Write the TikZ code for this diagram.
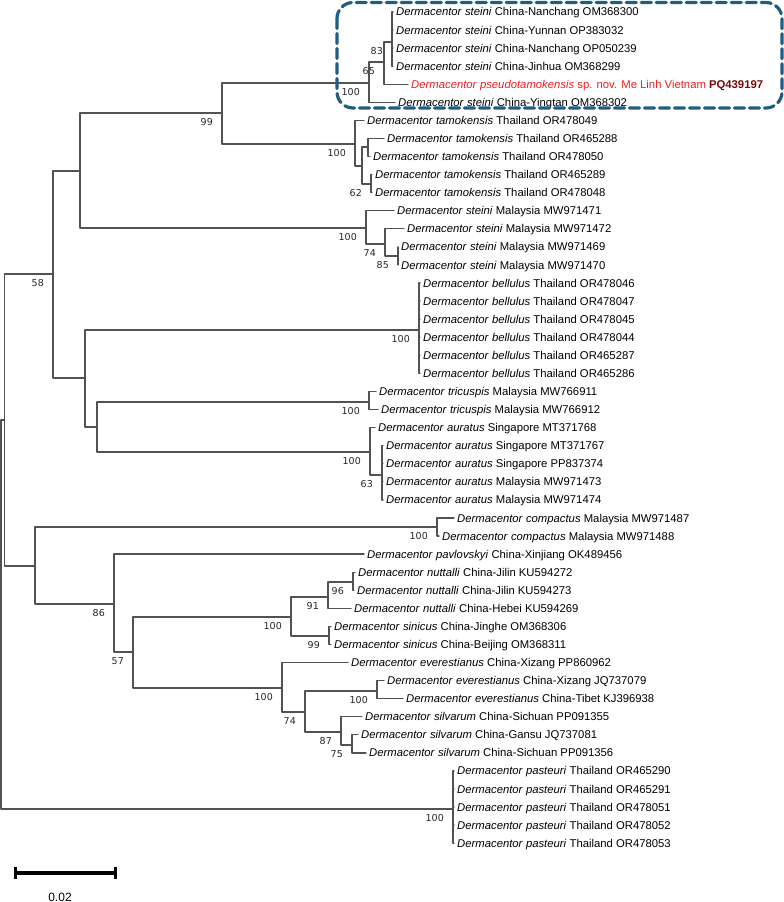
\documentclass[tikz,border=0pt]{standalone}
\usepackage{fontspec}
\setmainfont{Liberation Sans}
\newfontfamily\bsfont{DejaVu Sans}
\definecolor{boxblue}{RGB}{31,94,128}
\definecolor{novred}{RGB}{235,30,35}
\definecolor{accred}{RGB}{120,10,10}
\begin{document}
\begin{tikzpicture}[x=1pt, y=-1pt, line join=round, line cap=round,
	br/.style={draw=black!68, line width=1.25pt},
	lf/.style={anchor=base west, inner sep=0pt, xshift=3pt, yshift=-4pt, font=\fontsize{11.3}{13}\selectfont},
	bs/.style={anchor=north east, inner sep=0pt, xshift=-9pt, yshift=-5.5pt, text=black!85, font=\bsfont\fontsize{9.5}{10}\selectfont}]
	\useasboundingbox (0,0) rectangle (784,902);
	\def\D{\textit{Dermacentor}}
	% inner nodes
	\coordinate (root) at (1,614);
	\coordinate (ingroup) at (4.5,420);
	\coordinate (n58) at (53,274);
	\coordinate (nsteini) at (80,171);
	\coordinate (n99) at (222,113);
	\coordinate (nchina) at (369,83);
	\coordinate (n65) at (384,62);
	\coordinate (n83) at (392,42);
	\coordinate (ntamo) at (355,144);
	\coordinate (ntamoA) at (362,166);
	\coordinate (ntamoB) at (368,147);
	\coordinate (n62) at (371,184);
	\coordinate (nmal) at (366,228);
	\coordinate (n74) at (385,244);
	\coordinate (n85) at (398,256);
	\coordinate (nlow) at (85,378);
	\coordinate (nbell) at (419,330);
	\coordinate (ntriaur) at (97,427);
	\coordinate (ntric) at (369,402);
	\coordinate (naur) at (370,452);
	\coordinate (n63) at (382,475);
	\coordinate (nlower) at (35,566);
	\coordinate (ncomp) at (437,527);
	\coordinate (n86) at (114,604);
	\coordinate (n57) at (133,652);
	\coordinate (nnut) at (291,617);
	\coordinate (n91) at (328,597);
	\coordinate (n96) at (353,582);
	\coordinate (nsin) at (329,636);
	\coordinate (never) at (282,688);
	\coordinate (n74b) at (305,712);
	\coordinate (neve) at (377,691);
	\coordinate (n87) at (341,732);
	\coordinate (n75) at (352,745);
	\coordinate (npast) at (453,809);
	% leaf tips
	\coordinate (t1) at (393,12.0);
	\coordinate (t2) at (393,30.1);
	\coordinate (t3) at (393,48.1);
	\coordinate (t4) at (393,66.2);
	\coordinate (t5) at (408,84.3);
	\coordinate (t6) at (395,102.4);
	\coordinate (t7) at (364,120.4);
	\coordinate (t8) at (384,138.5);
	\coordinate (t9) at (370,156.6);
	\coordinate (t10) at (372,174.6);
	\coordinate (t11) at (372,192.7);
	\coordinate (t12) at (394,210.8);
	\coordinate (t13) at (404,228.8);
	\coordinate (t14) at (398,246.9);
	\coordinate (t15) at (398,265.0);
	\coordinate (t16) at (420,283.1);
	\coordinate (t17) at (420,301.1);
	\coordinate (t18) at (420,319.2);
	\coordinate (t19) at (420,337.3);
	\coordinate (t20) at (420,355.3);
	\coordinate (t21) at (420,373.4);
	\coordinate (t22) at (376,391.5);
	\coordinate (t23) at (378,409.5);
	\coordinate (t24) at (375,427.6);
	\coordinate (t25) at (383,445.7);
	\coordinate (t26) at (383,463.8);
	\coordinate (t27) at (383,481.8);
	\coordinate (t28) at (383,499.9);
	\coordinate (t29) at (454,518.0);
	\coordinate (t30) at (439,536.0);
	\coordinate (t31) at (364,554.1);
	\coordinate (t32) at (355,572.2);
	\coordinate (t33) at (354,590.2);
	\coordinate (t34) at (351,608.3);
	\coordinate (t35) at (331,626.4);
	\coordinate (t36) at (331,644.4);
	\coordinate (t37) at (348,662.5);
	\coordinate (t38) at (384,680.6);
	\coordinate (t39) at (403,698.6);
	\coordinate (t40) at (362,716.7);
	\coordinate (t41) at (358,734.8);
	\coordinate (t42) at (366,752.9);
	\coordinate (t43) at (454,770.9);
	\coordinate (t44) at (454,789.0);
	\coordinate (t45) at (454,807.1);
	\coordinate (t46) at (454,825.1);
	\coordinate (t47) at (454,843.2);
	% branches
	\draw[br] (root) |- (ingroup); \draw[br] (root) |- (npast);
	\draw[br] (ingroup) |- (n58); \draw[br] (ingroup) |- (nlower);
	\draw[br] (n58) |- (nsteini); \draw[br] (n58) |- (nlow);
	\draw[br] (nsteini) |- (n99); \draw[br] (nsteini) |- (nmal);
	\draw[br] (n99) |- (nchina); \draw[br] (n99) |- (ntamo);
	\draw[br] (nchina) |- (n65); \draw[br] (nchina) |- (t6);
	\draw[br] (n65) |- (n83); \draw[br] (n65) |- (t5);
	\draw[br] (n83) |- (t1); \draw[br] (n83) |- (t2); \draw[br] (n83) |- (t3); \draw[br] (n83) |- (t4);
	\draw[br] (ntamo) |- (t7); \draw[br] (ntamo) |- (ntamoA);
	\draw[br] (ntamoA) |- (ntamoB); \draw[br] (ntamoA) |- (n62);
	\draw[br] (ntamoB) |- (t8); \draw[br] (ntamoB) |- (t9);
	\draw[br] (n62) |- (t10); \draw[br] (n62) |- (t11);
	\draw[br] (nmal) |- (t12); \draw[br] (nmal) |- (n74);
	\draw[br] (n74) |- (t13); \draw[br] (n74) |- (n85);
	\draw[br] (n85) |- (t14); \draw[br] (n85) |- (t15);
	\draw[br] (nlow) |- (nbell); \draw[br] (nlow) |- (ntriaur);
	\draw[br] (nbell) |- (t16); \draw[br] (nbell) |- (t17); \draw[br] (nbell) |- (t18);
	\draw[br] (nbell) |- (t19); \draw[br] (nbell) |- (t20); \draw[br] (nbell) |- (t21);
	\draw[br] (ntriaur) |- (ntric); \draw[br] (ntriaur) |- (naur);
	\draw[br] (ntric) |- (t22); \draw[br] (ntric) |- (t23);
	\draw[br] (naur) |- (t24); \draw[br] (naur) |- (n63);
	\draw[br] (n63) |- (t25); \draw[br] (n63) |- (t26); \draw[br] (n63) |- (t27); \draw[br] (n63) |- (t28);
	\draw[br] (nlower) |- (ncomp); \draw[br] (nlower) |- (n86);
	\draw[br] (ncomp) |- (t29); \draw[br] (ncomp) |- (t30);
	\draw[br] (n86) |- (t31); \draw[br] (n86) |- (n57);
	\draw[br] (n57) |- (nnut); \draw[br] (n57) |- (never);
	\draw[br] (nnut) |- (n91); \draw[br] (nnut) |- (nsin);
	\draw[br] (n91) |- (n96); \draw[br] (n91) |- (t34);
	\draw[br] (n96) |- (t32); \draw[br] (n96) |- (t33);
	\draw[br] (nsin) |- (t35); \draw[br] (nsin) |- (t36);
	\draw[br] (never) |- (t37); \draw[br] (never) |- (n74b);
	\draw[br] (n74b) |- (neve); \draw[br] (n74b) |- (n87);
	\draw[br] (neve) |- (t38); \draw[br] (neve) |- (t39);
	\draw[br] (n87) |- (t40); \draw[br] (n87) |- (n75);
	\draw[br] (n75) |- (t41); \draw[br] (n75) |- (t42);
	\draw[br] (npast) |- (t43); \draw[br] (npast) |- (t44); \draw[br] (npast) |- (t45);
	\draw[br] (npast) |- (t46); \draw[br] (npast) |- (t47);
	% leaf labels
	\node[lf] (l1) at (t1) {\D\ \textit{steini} China-Nanchang OM368300};
	\node[lf] (l2) at (t2) {\D\ \textit{steini} China-Yunnan OP383032};
	\node[lf] (l3) at (t3) {\D\ \textit{steini} China-Nanchang OP050239};
	\node[lf] (l4) at (t4) {\D\ \textit{steini} China-Jinhua OM368299};
	\node[lf, text=novred] (l5) at (t5) {\D\ \textit{pseudotamokensis} sp. nov. Me Linh Vietnam \textcolor{accred}{\textbf{PQ439197}}};
	\node[lf] (l6) at (t6) {\D\ \textit{steini} China-Yingtan OM368302};
	\node[lf] (l7) at (t7) {\D\ \textit{tamokensis} Thailand OR478049};
	\node[lf] (l8) at (t8) {\D\ \textit{tamokensis} Thailand OR465288};
	\node[lf] (l9) at (t9) {\D\ \textit{tamokensis} Thailand OR478050};
	\node[lf] (l10) at (t10) {\D\ \textit{tamokensis} Thailand OR465289};
	\node[lf] (l11) at (t11) {\D\ \textit{tamokensis} Thailand OR478048};
	\node[lf] (l12) at (t12) {\D\ \textit{steini} Malaysia MW971471};
	\node[lf] (l13) at (t13) {\D\ \textit{steini} Malaysia MW971472};
	\node[lf] (l14) at (t14) {\D\ \textit{steini} Malaysia MW971469};
	\node[lf] (l15) at (t15) {\D\ \textit{steini} Malaysia MW971470};
	\node[lf] (l16) at (t16) {\D\ \textit{bellulus} Thailand OR478046};
	\node[lf] (l17) at (t17) {\D\ \textit{bellulus} Thailand OR478047};
	\node[lf] (l18) at (t18) {\D\ \textit{bellulus} Thailand OR478045};
	\node[lf] (l19) at (t19) {\D\ \textit{bellulus} Thailand OR478044};
	\node[lf] (l20) at (t20) {\D\ \textit{bellulus} Thailand OR465287};
	\node[lf] (l21) at (t21) {\D\ \textit{bellulus} Thailand OR465286};
	\node[lf] (l22) at (t22) {\D\ \textit{tricuspis} Malaysia MW766911};
	\node[lf] (l23) at (t23) {\D\ \textit{tricuspis} Malaysia MW766912};
	\node[lf] (l24) at (t24) {\D\ \textit{auratus} Singapore MT371768};
	\node[lf] (l25) at (t25) {\D\ \textit{auratus} Singapore MT371767};
	\node[lf] (l26) at (t26) {\D\ \textit{auratus} Singapore PP837374};
	\node[lf] (l27) at (t27) {\D\ \textit{auratus} Malaysia MW971473};
	\node[lf] (l28) at (t28) {\D\ \textit{auratus} Malaysia MW971474};
	\node[lf] (l29) at (t29) {\D\ \textit{compactus} Malaysia MW971487};
	\node[lf] (l30) at (t30) {\D\ \textit{compactus} Malaysia MW971488};
	\node[lf] (l31) at (t31) {\D\ \textit{pavlovskyi} China-Xinjiang OK489456};
	\node[lf] (l32) at (t32) {\D\ \textit{nuttalli} China-Jilin KU594272};
	\node[lf] (l33) at (t33) {\D\ \textit{nuttalli} China-Jilin KU594273};
	\node[lf] (l34) at (t34) {\D\ \textit{nuttalli} China-Hebei KU594269};
	\node[lf] (l35) at (t35) {\D\ \textit{sinicus} China-Jinghe OM368306};
	\node[lf] (l36) at (t36) {\D\ \textit{sinicus} China-Beijing OM368311};
	\node[lf] (l37) at (t37) {\D\ \textit{everestianus} China-Xizang PP860962};
	\node[lf] (l38) at (t38) {\D\ \textit{everestianus} China-Xizang JQ737079};
	\node[lf] (l39) at (t39) {\D\ \textit{everestianus} China-Tibet KJ396938};
	\node[lf] (l40) at (t40) {\D\ \textit{silvarum} China-Sichuan PP091355};
	\node[lf] (l41) at (t41) {\D\ \textit{silvarum} China-Gansu JQ737081};
	\node[lf] (l42) at (t42) {\D\ \textit{silvarum} China-Sichuan PP091356};
	\node[lf] (l43) at (t43) {\D\ \textit{pasteuri} Thailand OR465290};
	\node[lf] (l44) at (t44) {\D\ \textit{pasteuri} Thailand OR465291};
	\node[lf] (l45) at (t45) {\D\ \textit{pasteuri} Thailand OR478051};
	\node[lf] (l46) at (t46) {\D\ \textit{pasteuri} Thailand OR478052};
	\node[lf] (l47) at (t47) {\D\ \textit{pasteuri} Thailand OR478053};
	% bootstrap values
	\node[bs] (b58) at (n58) {58};
	\node[bs] (b99) at (n99) {99};
	\node[bs] (bchina) at (nchina) {100};
	\node[bs] (b65) at (n65) {65};
	\node[bs] (b83) at (n83) {83};
	\node[bs] (btamo) at (ntamo) {100};
	\node[bs] (b62) at (n62) {62};
	\node[bs] (bmal) at (nmal) {100};
	\node[bs] (b74) at (n74) {74};
	\node[bs] (b85) at (n85) {85};
	\node[bs] (bbell) at (nbell) {100};
	\node[bs] (btric) at (ntric) {100};
	\node[bs] (baur) at (naur) {100};
	\node[bs] (b63) at (n63) {63};
	\node[bs] (bcomp) at (ncomp) {100};
	\node[bs] (b86) at (n86) {86};
	\node[bs] (b57) at (n57) {57};
	\node[bs] (bnut) at (nnut) {100};
	\node[bs] (b91) at (n91) {91};
	\node[bs] (b96) at (n96) {96};
	\node[bs] (bsin) at (nsin) {99};
	\node[bs] (bever) at (never) {100};
	\node[bs] (b74b) at (n74b) {74};
	\node[bs] (beve) at (neve) {100};
	\node[bs] (b87) at (n87) {87};
	\node[bs] (b75) at (n75) {75};
	\node[bs] (bpast) at (npast) {100};
	% new species box
	\draw[boxblue, line width=3.2pt, dash pattern=on 10pt off 5pt, rounded corners=16pt] (337,2.5) rectangle (782,108);
	% scale bar
	\coordinate (sbL) at (15,873);
	\coordinate (sbR) at (115,873);
	\draw[line width=3.6pt, line cap=butt] (sbL) -- (sbR);
	\draw[line width=3pt, line cap=butt] ([yshift=6pt]sbL) -- ([yshift=-6pt]sbL);
	\draw[line width=3pt, line cap=butt] ([yshift=6pt]sbR) -- ([yshift=-6pt]sbR);
	\node[font=\fontsize{12}{14}\selectfont] (sbtxt) at (60,897) {0.02};
\end{tikzpicture}
\end{document}
